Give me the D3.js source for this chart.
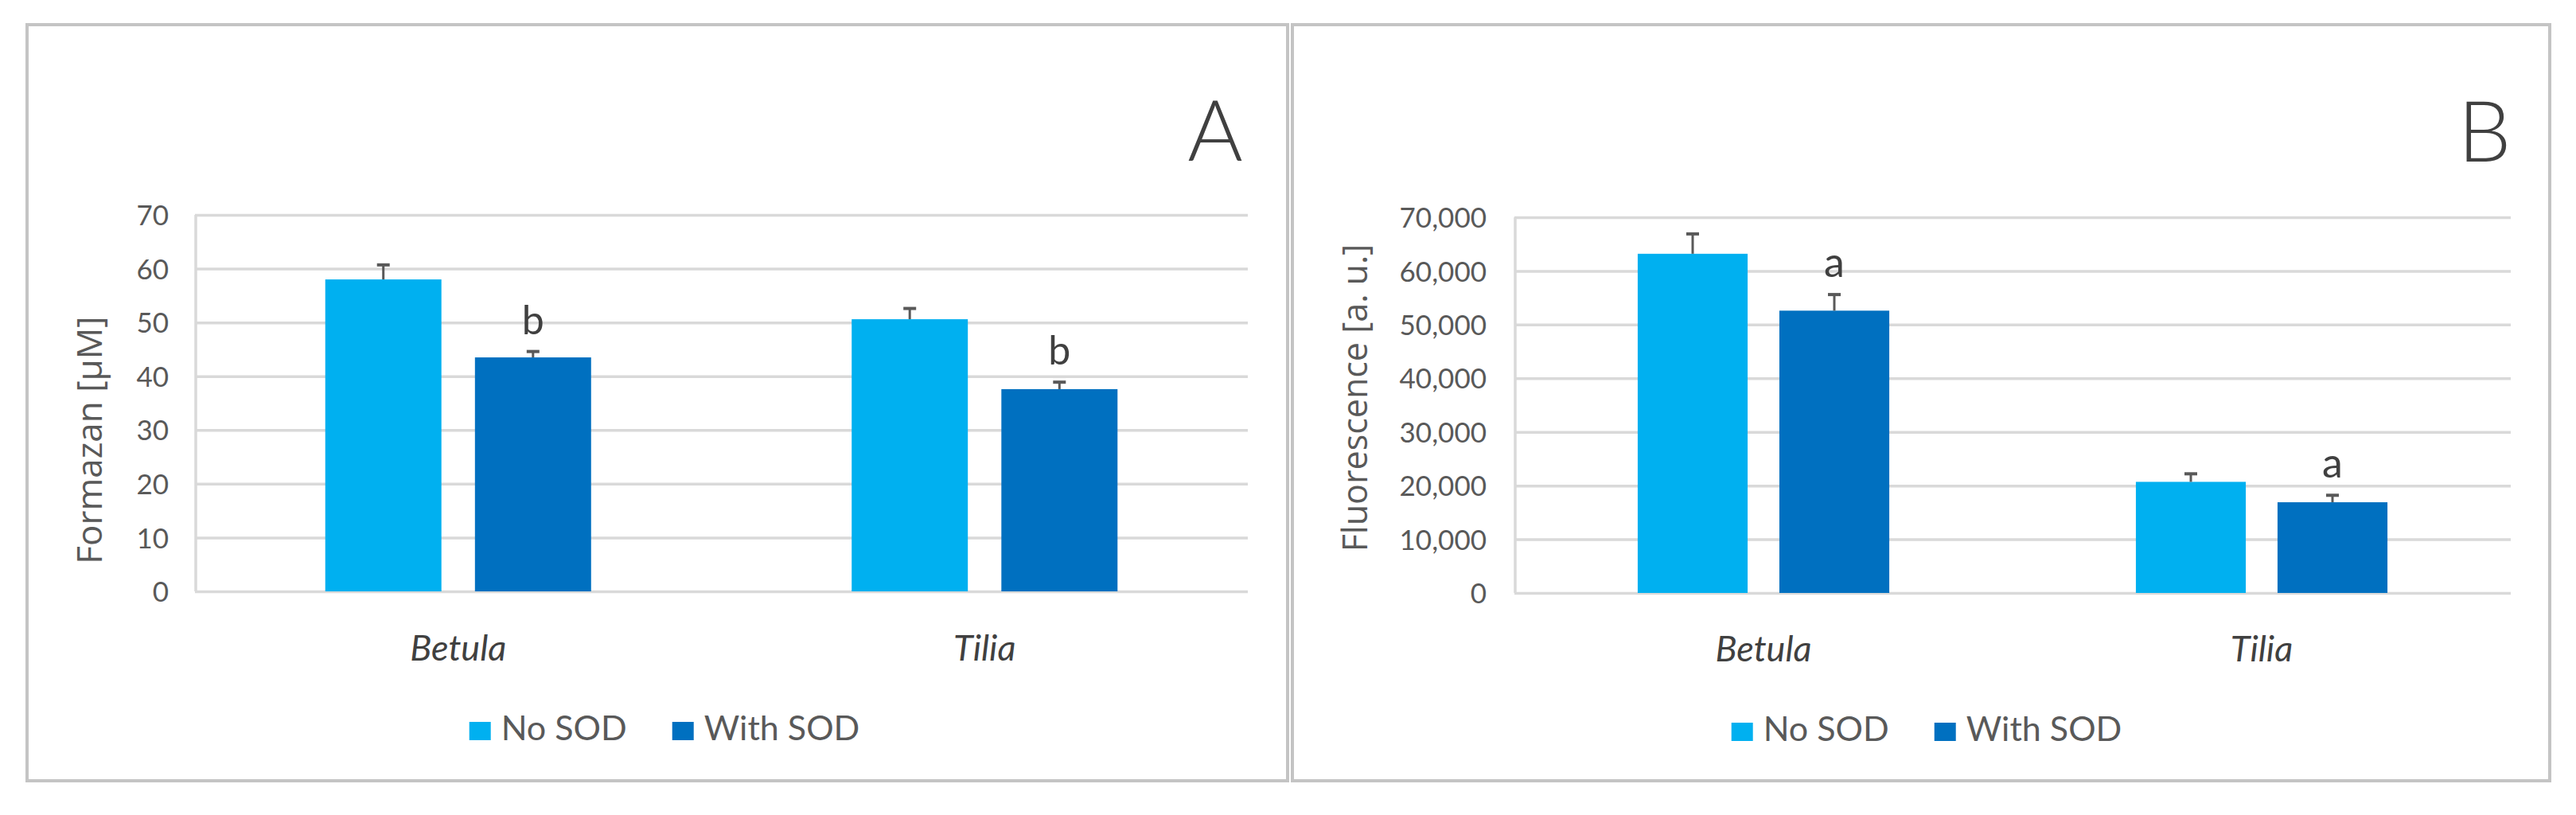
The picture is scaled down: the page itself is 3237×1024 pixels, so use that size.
<!DOCTYPE html>
<html>
<head>
<meta charset="utf-8">
<script src="https://cdn.jsdelivr.net/npm/d3@7"></script>
<style>
  html, body { margin: 0; padding: 0; background: #ffffff; }
  svg { display: block; }
</style>
</head>
<body>
<svg id="chart" width="3237" height="1024"></svg>
<script>
// ---------- DATA ----------
const categories = ["Betula", "Tilia"];
const seriesNames = ["No SOD", "With SOD"];

// Panel A: Formazan [µM]
const formazanNoSOD = [58.0, 50.6];
const formazanNoSODErr = [2.7, 2.0];
const formazanWithSOD = [43.5, 37.6];
const formazanWithSODErr = [1.1, 1.3];
const formazanLetters = ["b", "b"];      // above "With SOD" bars
const formazanTicks = [0, 10, 20, 30, 40, 50, 60, 70];

// Panel B: Fluorescence [a. u.]
const fluorNoSOD = [63200, 20700];
const fluorNoSODErr = [3700, 1500];
const fluorWithSOD = [52600, 16900];
const fluorWithSODErr = [3000, 1300];
const fluorLetters = ["a", "a"];         // above "With SOD" bars
const fluorTicks = [0, 10000, 20000, 30000, 40000, 50000, 60000, 70000];

// ---------- STYLE ----------
const colors = { "No SOD": "#00B0F0", "With SOD": "#0070C0" };
const gridColor = "#D9D9D9";
const textGray = "#595959";
const darkGray = "#404040";

const svg = d3.select("#chart");

function panel(cfg) {
  const g = svg.append("g");
  // panel border
  g.append("rect")
    .attr("x", cfg.box[0]).attr("y", cfg.box[1])
    .attr("width", cfg.box[2]).attr("height", cfg.box[3])
    .attr("fill", "#fff").attr("stroke", "#C4C4C4").attr("stroke-width", 4);

  const x0 = d3.scaleBand().domain(categories)
    .range([cfg.plot.left, cfg.plot.right])
    .paddingInner(0.495).paddingOuter(0.2475);
  const x1 = d3.scaleBand().domain(seriesNames)
    .range([0, x0.bandwidth()]).paddingInner(0.224).paddingOuter(0);
  const y = d3.scaleLinear().domain([0, cfg.ticks[cfg.ticks.length - 1]])
    .range([cfg.plot.bottom, cfg.plot.top]);

  // gridlines via axis
  const grid = g.append("g")
    .attr("transform", `translate(${cfg.plot.left},0)`)
    .call(d3.axisLeft(y).tickValues(cfg.ticks)
      .tickSize(-(cfg.plot.right - cfg.plot.left)).tickFormat(""));
  grid.select(".domain").remove();
  grid.selectAll(".tick line").attr("stroke", gridColor).attr("stroke-width", 3.5);

  // vertical axis line
  g.append("line")
    .attr("x1", cfg.plot.left + 1).attr("x2", cfg.plot.left + 1)
    .attr("y1", cfg.plot.top).attr("y2", cfg.plot.bottom)
    .attr("stroke", gridColor).attr("stroke-width", 3.5);

  // tick labels via axis
  const yAxis = g.append("g")
    .attr("transform", `translate(${cfg.plot.left},0)`)
    .call(d3.axisLeft(y).tickValues(cfg.ticks).tickSize(0).tickPadding(cfg.tickPad)
      .tickFormat(cfg.fmt));
  yAxis.select(".domain").remove();
  yAxis.selectAll("text")
    .attr("font-family", "Lato, 'Open Sans', sans-serif")
    .attr("font-size", cfg.tickFont).attr("fill", textGray).attr("dy", "0.36em");

  // category axis labels
  const xAxis = g.append("g")
    .attr("transform", `translate(0,${cfg.plot.bottom})`)
    .call(d3.axisBottom(x0).tickSize(0).tickPadding(0));
  xAxis.select(".domain").remove();
  xAxis.selectAll("text")
    .attr("y", cfg.catBaseline - cfg.plot.bottom).attr("dy", 0)
    .attr("font-family", "Lato, 'Open Sans', sans-serif")
    .attr("font-style", "italic").attr("font-size", 45).attr("fill", darkGray);

  // bars
  const rows = categories.map((c, i) => ({
    cat: c,
    vals: [
      { s: "No SOD", v: cfg.noSOD[i], e: cfg.noSODErr[i], letter: "" },
      { s: "With SOD", v: cfg.withSOD[i], e: cfg.withSODErr[i], letter: cfg.letters[i] }
    ]
  }));
  const grp = g.selectAll(".grp").data(rows).enter().append("g")
    .attr("transform", d => `translate(${x0(d.cat)},0)`);
  const items = grp.selectAll(".bar").data(d => d.vals).enter();
  items.append("rect")
    .attr("x", d => x1(d.s)).attr("width", x1.bandwidth())
    .attr("y", d => y(d.v)).attr("height", d => y(0) - y(d.v))
    .attr("fill", d => colors[d.s]);
  // error bars (plus only)
  items.append("line")
    .attr("x1", d => x1(d.s) + x1.bandwidth() / 2)
    .attr("x2", d => x1(d.s) + x1.bandwidth() / 2)
    .attr("y1", d => y(d.v)).attr("y2", d => y(d.v + d.e))
    .attr("stroke", "#595959").attr("stroke-width", 3);
  items.append("line")
    .attr("x1", d => x1(d.s) + x1.bandwidth() / 2 - 8)
    .attr("x2", d => x1(d.s) + x1.bandwidth() / 2 + 8)
    .attr("y1", d => y(d.v + d.e)).attr("y2", d => y(d.v + d.e))
    .attr("stroke", "#595959").attr("stroke-width", 4);
  // significance letters
  items.append("text")
    .attr("x", d => x1(d.s) + x1.bandwidth() / 2)
    .attr("y", d => y(d.v + d.e) - 22)
    .attr("text-anchor", "middle")
    .attr("font-family", "Lato, 'Open Sans', sans-serif")
    .attr("font-size", cfg.letterFont).attr("fill", darkGray)
    .text(d => d.letter);

  // y-axis title
  g.append("text")
    .attr("transform", `translate(${cfg.title.x},${cfg.title.y}) rotate(-90)`)
    .attr("text-anchor", "middle").attr("dy", "0.35em")
    .attr("font-family", "'Open Sans', sans-serif")
    .attr("font-size", cfg.title.size).attr("fill", textGray)
    .text(cfg.title.text);

  // panel letter
  g.append("text")
    .attr("x", cfg.tag.x).attr("y", cfg.tag.y)
    .attr("text-anchor", "middle")
    .attr("font-family", "Lato, 'Open Sans', sans-serif").attr("font-weight", 300)
    .attr("font-size", 106).attr("fill", darkGray)
    .text(cfg.tag.text);

  // legend
  const leg = g.append("g");
  const legItems = seriesNames.map(s => {
    const it = leg.append("g");
    it.append("rect").attr("x", 0).attr("y", cfg.legend.y - 23)
      .attr("width", 27).attr("height", 23).attr("fill", colors[s]);
    const t = it.append("text").attr("x", 40).attr("y", cfg.legend.y)
      .attr("font-family", "Lato, 'Open Sans', sans-serif")
      .attr("font-size", 43).attr("fill", textGray).text(s);
    return { it, w: 40 + t.node().getComputedTextLength() };
  });
  const gap = 57;
  const total = legItems.reduce((a, b) => a + b.w, 0) + gap * (legItems.length - 1);
  let cx = cfg.legend.cx - total / 2;
  legItems.forEach(li => { li.it.attr("transform", `translate(${cx},0)`); cx += li.w + gap; });
}

panel({
  box: [34, 31, 1584, 950],
  plot: { left: 245, right: 1568, top: 270, bottom: 743 },
  ticks: formazanTicks, fmt: d3.format("d"), tickPad: 33, tickFont: 35,
  noSOD: formazanNoSOD, noSODErr: formazanNoSODErr,
  withSOD: formazanWithSOD, withSODErr: formazanWithSODErr,
  letters: formazanLetters, letterFont: 50,
  catBaseline: 830,
  title: { x: 113, y: 553, size: 44, text: "Formazan [µM]" },
  tag: { x: 1527, y: 202, text: "A" },
  legend: { cx: 835, y: 930 }
});

panel({
  box: [1624, 31, 1580, 950],
  plot: { left: 1903, right: 3155, top: 273, bottom: 745 },
  ticks: fluorTicks, fmt: d3.format(","), tickPad: 35, tickFont: 35,
  noSOD: fluorNoSOD, noSODErr: fluorNoSODErr,
  withSOD: fluorWithSOD, withSODErr: fluorWithSODErr,
  letters: fluorLetters, letterFont: 52,
  catBaseline: 831,
  title: { x: 1703, y: 500, size: 43, text: "Fluorescence [a. u.]" },
  tag: { x: 3122, y: 203, text: "B" },
  legend: { cx: 2421, y: 931 }
});
</script>
</body>
</html>
